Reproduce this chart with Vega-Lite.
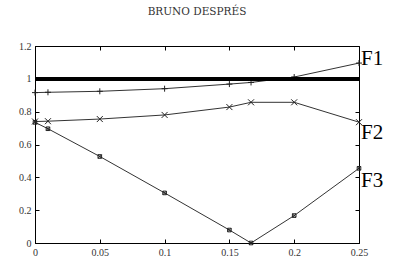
{
  "$schema": "https://vega.github.io/schema/vega-lite/v6.json",
  "width": 324,
  "height": 197,
  "autosize": "none",
  "padding": {"left": 35, "top": 46, "right": 34, "bottom": 19},
  "background": "white",
  "title": {"text": "BRUNO DESPRÉS", "font": "DejaVu Serif", "fontSize": 10.5, "fontWeight": "normal", "color": "#333", "anchor": "middle", "offset": 24},
  "config": {
    "view": {"stroke": "black", "strokeWidth": 1},
    "axis": {
      "grid": false,
      "domainColor": "black",
      "tickColor": "black",
      "tickSize": -4,
      "labelPadding": 8,
      "labelFlush": false,
      "labelOverlap": false,
      "labelFont": "Liberation Serif",
      "labelFontSize": 10,
      "labelColor": "#333",
      "title": null,
      "format": "~g"
    }
  },
  "resolve": {"axis": {"x": "independent", "y": "independent"}},
  "data": {"values": [
    {"series": "F1", "x": 0, "y": 0.916},
    {"series": "F1", "x": 0.01, "y": 0.918},
    {"series": "F1", "x": 0.05, "y": 0.924},
    {"series": "F1", "x": 0.1, "y": 0.94},
    {"series": "F1", "x": 0.15, "y": 0.968},
    {"series": "F1", "x": 0.1667, "y": 0.978},
    {"series": "F1", "x": 0.2, "y": 1.011},
    {"series": "F1", "x": 0.25, "y": 1.096},
    {"series": "F2", "x": 0, "y": 0.74},
    {"series": "F2", "x": 0.01, "y": 0.742},
    {"series": "F2", "x": 0.05, "y": 0.755},
    {"series": "F2", "x": 0.1, "y": 0.78},
    {"series": "F2", "x": 0.15, "y": 0.828},
    {"series": "F2", "x": 0.1667, "y": 0.857},
    {"series": "F2", "x": 0.2, "y": 0.857},
    {"series": "F2", "x": 0.25, "y": 0.736},
    {"series": "F3", "x": 0, "y": 0.735},
    {"series": "F3", "x": 0.01, "y": 0.696},
    {"series": "F3", "x": 0.05, "y": 0.527},
    {"series": "F3", "x": 0.1, "y": 0.305},
    {"series": "F3", "x": 0.15, "y": 0.079},
    {"series": "F3", "x": 0.1667, "y": 0.0},
    {"series": "F3", "x": 0.2, "y": 0.167},
    {"series": "F3", "x": 0.25, "y": 0.455}
  ]},
  "layer": [
    {
      "mark": {"type": "line", "color": "#333", "strokeWidth": 1},
      "encoding": {
        "x": {"field": "x", "type": "quantitative", "scale": {"domain": [0, 0.25], "nice": false}, "axis": {"orient": "bottom", "values": [0, 0.05, 0.1, 0.15, 0.2, 0.25]}},
        "y": {"field": "y", "type": "quantitative", "scale": {"domain": [0, 1.2], "nice": false}, "axis": {"orient": "left", "values": [0, 0.2, 0.4, 0.6, 0.8, 1, 1.2]}},
        "detail": {"field": "series"}
      }
    },
    {
      "mark": {"type": "point", "filled": false, "color": "#222", "strokeWidth": 1, "size": 36, "opacity": 1},
      "encoding": {
        "x": {"field": "x", "type": "quantitative", "axis": {"orient": "top", "labels": false, "domain": false, "values": [0, 0.05, 0.1, 0.15, 0.2, 0.25]}},
        "y": {"field": "y", "type": "quantitative", "axis": {"orient": "right", "labels": false, "domain": false, "values": [0, 0.2, 0.4, 0.6, 0.8, 1, 1.2]}},
        "shape": {"field": "series", "type": "nominal", "scale": {"domain": ["F1", "F2", "F3"], "range": ["M-1,0H1M0,-1V1", "M-1,-1L1,1M-1,1L1,-1", "M-0.6,-0.6H0.6V0.6H-0.6ZM-0.6,-0.6L0.6,0.6M-0.6,0.6L0.6,-0.6"]}, "legend": null}
      }
    },
    {
      "mark": {"type": "rule", "color": "black", "strokeWidth": 3},
      "encoding": {"y": {"datum": 1, "type": "quantitative", "axis": null}}
    },
    {
      "data": {"values": [
        {"label": "F1", "x": 0.25, "y": 1.12},
        {"label": "F2", "x": 0.25, "y": 0.67},
        {"label": "F3", "x": 0.25, "y": 0.38}
      ]},
      "mark": {"type": "text", "font": "Liberation Serif", "fontSize": 21, "align": "left", "baseline": "middle", "dx": 2, "color": "black"},
      "encoding": {
        "x": {"field": "x", "type": "quantitative", "axis": null},
        "y": {"field": "y", "type": "quantitative", "axis": null},
        "text": {"field": "label"}
      }
    }
  ]
}
